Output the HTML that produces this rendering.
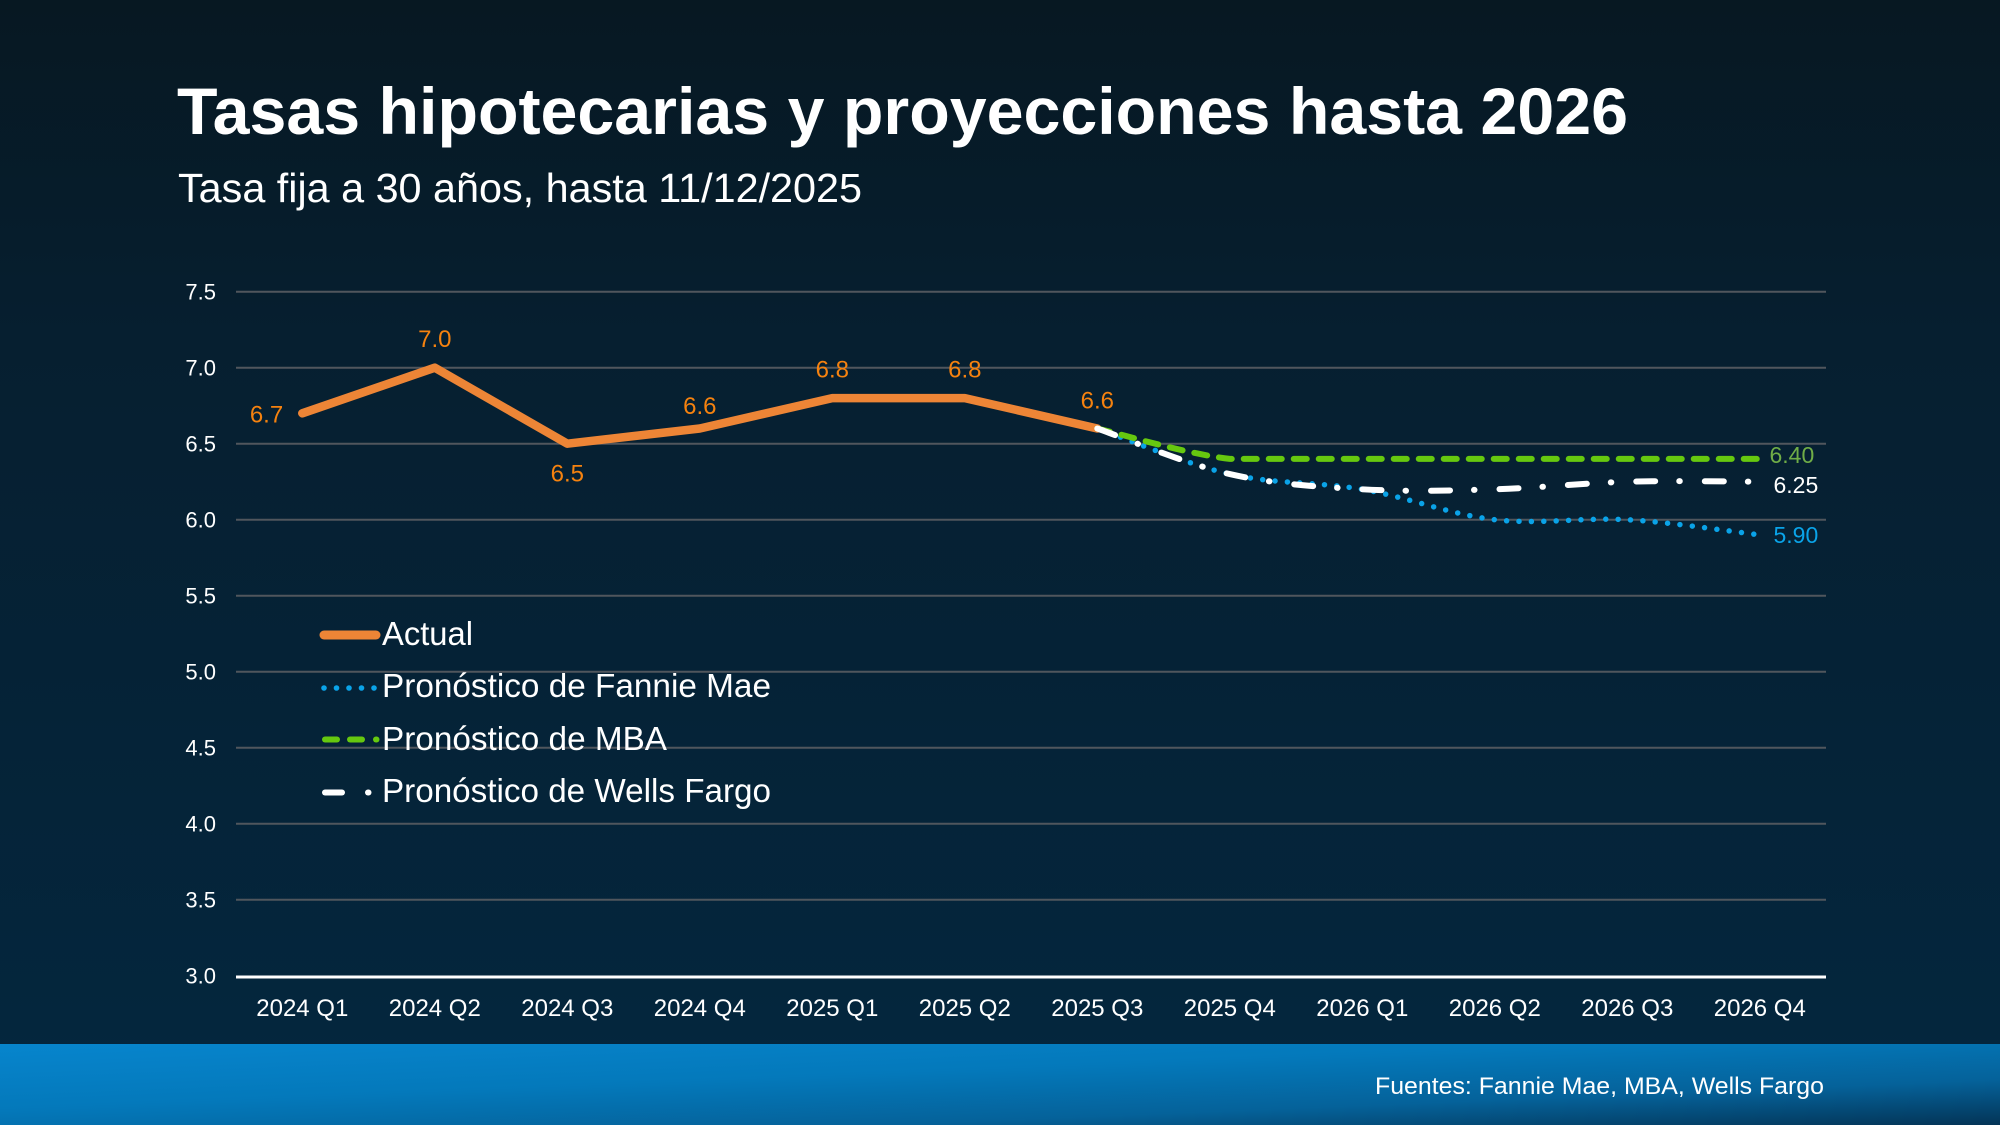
<!DOCTYPE html>
<html>
<head>
<meta charset="utf-8">
<style>
  html, body { margin: 0; padding: 0; background: #061f30; }
  svg { display: block; }
  text { font-family: "Liberation Sans", Arial, sans-serif; }
</style>
</head>
<body>
<svg width="2000" height="1125" viewBox="0 0 2000 1125" xmlns="http://www.w3.org/2000/svg">
  <defs>
    <linearGradient id="bg" x1="0" y1="0" x2="0" y2="1">
      <stop offset="0" stop-color="#071822"/>
      <stop offset="0.3" stop-color="#061f30"/>
      <stop offset="1" stop-color="#04273f"/>
    </linearGradient>
    <linearGradient id="band" x1="0" y1="0" x2="1" y2="1">
      <stop offset="0" stop-color="#0785cd"/>
      <stop offset="0.4" stop-color="#0479bb"/>
      <stop offset="0.72" stop-color="#05629a"/>
      <stop offset="1" stop-color="#043456"/>
    </linearGradient>
  </defs>

  <rect x="0" y="0" width="2000" height="1125" fill="url(#bg)"/>
  <rect x="0" y="1044" width="2000" height="81" fill="url(#band)"/>

  <!-- Title -->
  <text x="177" y="134" font-size="66" font-weight="bold" fill="#ffffff" textLength="1451" lengthAdjust="spacingAndGlyphs">Tasas hipotecarias y proyecciones hasta 2026</text>
  <text x="178" y="202" font-size="41" fill="#ffffff" textLength="684" lengthAdjust="spacingAndGlyphs">Tasa fija a 30 años, hasta 11/12/2025</text>

  <!-- Gridlines -->
  <g stroke="#50565d" stroke-width="2">
    <line x1="236" y1="291.7" x2="1826" y2="291.7"/>
    <line x1="236" y1="367.7" x2="1826" y2="367.7"/>
    <line x1="236" y1="443.7" x2="1826" y2="443.7"/>
    <line x1="236" y1="519.7" x2="1826" y2="519.7"/>
    <line x1="236" y1="595.7" x2="1826" y2="595.7"/>
    <line x1="236" y1="671.7" x2="1826" y2="671.7"/>
    <line x1="236" y1="747.7" x2="1826" y2="747.7"/>
    <line x1="236" y1="823.7" x2="1826" y2="823.7"/>
    <line x1="236" y1="899.7" x2="1826" y2="899.7"/>
  </g>
  <line x1="236" y1="977" x2="1826" y2="977" stroke="#ffffff" stroke-width="3"/>

  <!-- Y tick labels -->
  <g font-size="22" fill="#ffffff" text-anchor="end">
    <text x="216" y="299.7">7.5</text>
    <text x="216" y="375.7">7.0</text>
    <text x="216" y="451.7">6.5</text>
    <text x="216" y="527.7">6.0</text>
    <text x="216" y="603.7">5.5</text>
    <text x="216" y="679.7">5.0</text>
    <text x="216" y="755.7">4.5</text>
    <text x="216" y="831.7">4.0</text>
    <text x="216" y="907.7">3.5</text>
    <text x="216" y="983.7">3.0</text>
  </g>

  <!-- X labels -->
  <g font-size="24" fill="#ffffff" text-anchor="middle">
    <text x="302.3" y="1016">2024 Q1</text>
    <text x="434.8" y="1016">2024 Q2</text>
    <text x="567.3" y="1016">2024 Q3</text>
    <text x="699.8" y="1016">2024 Q4</text>
    <text x="832.3" y="1016">2025 Q1</text>
    <text x="964.8" y="1016">2025 Q2</text>
    <text x="1097.3" y="1016">2025 Q3</text>
    <text x="1229.8" y="1016">2025 Q4</text>
    <text x="1362.3" y="1016">2026 Q1</text>
    <text x="1494.8" y="1016">2026 Q2</text>
    <text x="1627.3" y="1016">2026 Q3</text>
    <text x="1759.8" y="1016">2026 Q4</text>
  </g>

  <!-- Actual -->
  <polyline points="302.3,413.3 434.8,367.7 567.3,443.7 699.8,428.5 832.3,398.1 964.8,398.1 1097.3,428.5"
    fill="none" stroke="#ed8536" stroke-width="8.5" stroke-linejoin="round" stroke-linecap="round"/>

  <!-- Fannie Mae (blue dotted) -->
  <path d="M1097.3,428.5 C1119.4,436.1 1185.6,464.0 1229.8,474.1 C1274.0,484.2 1318.1,481.7 1362.3,489.3 C1406.5,496.9 1450.6,514.6 1494.8,519.7 C1539.0,524.8 1583.1,517.2 1627.3,519.7 C1671.5,522.2 1737.7,532.4 1759.8,534.9"
    fill="none" stroke="#0aa3e8" stroke-width="5.5" stroke-linecap="round" stroke-dasharray="0 12.4"/>

  <!-- MBA (green dashed) -->
  <path d="M1097.3,428.5 C1119.4,433.6 1185.6,453.8 1229.8,458.9 L1759.8,458.9"
    fill="none" stroke="#66c80f" stroke-width="6" stroke-linecap="round" stroke-dasharray="13 12"/>

  <!-- Wells Fargo (white long dash dot) -->
  <path d="M1097.3,428.5 C1119.4,436.1 1185.6,464.0 1229.8,474.1 C1274.0,484.2 1318.1,486.8 1362.3,489.3 C1406.5,491.8 1450.6,490.6 1494.8,489.3 C1539.0,488.0 1583.1,483.0 1627.3,481.7 C1671.5,480.4 1737.7,481.7 1759.8,481.7"
    fill="none" stroke="#ffffff" stroke-width="6" stroke-linecap="round" stroke-dasharray="19 24 0.5 25"/>

  <!-- Actual data labels -->
  <g font-size="24" fill="#f5820f" text-anchor="middle">
    <text x="266.5" y="422.5">6.7</text>
    <text x="434.8" y="347">7.0</text>
    <text x="567.3" y="481.7">6.5</text>
    <text x="699.8" y="414">6.6</text>
    <text x="832.3" y="377.3">6.8</text>
    <text x="964.8" y="377.3">6.8</text>
    <text x="1097.3" y="408.3">6.6</text>
  </g>

  <!-- End labels -->
  <g font-size="23">
    <text x="1769.5" y="463" fill="#70ad47">6.40</text>
    <text x="1773.5" y="493" fill="#ffffff">6.25</text>
    <text x="1773.5" y="543" fill="#0aa3e8">5.90</text>
  </g>

  <!-- Legend -->
  <line x1="324" y1="635" x2="376" y2="635" stroke="#ed8536" stroke-width="9" stroke-linecap="round"/>
  <g fill="#0aa3e8">
    <circle cx="324" cy="688" r="2.8"/>
    <circle cx="336.5" cy="688" r="2.8"/>
    <circle cx="349" cy="688" r="2.8"/>
    <circle cx="361.5" cy="688" r="2.8"/>
    <circle cx="374" cy="688" r="2.8"/>
  </g>
  <g stroke="#66c80f" stroke-width="6" stroke-linecap="round">
    <line x1="325" y1="739.5" x2="337" y2="739.5"/>
    <line x1="350" y1="739.5" x2="362" y2="739.5"/>
    <line x1="376" y1="739.5" x2="376.5" y2="739.5"/>
  </g>
  <g stroke="#ffffff" stroke-width="6" stroke-linecap="round">
    <line x1="325" y1="792.5" x2="342" y2="792.5"/>
    <line x1="368" y1="792.5" x2="368.5" y2="792.5"/>
  </g>
  <g font-size="33" fill="#ffffff">
    <text x="382" y="645" textLength="91" lengthAdjust="spacingAndGlyphs">Actual</text>
    <text x="382" y="697" textLength="389" lengthAdjust="spacingAndGlyphs">Pronóstico de Fannie Mae</text>
    <text x="382" y="750" textLength="285" lengthAdjust="spacingAndGlyphs">Pronóstico de MBA</text>
    <text x="382" y="802" textLength="389" lengthAdjust="spacingAndGlyphs">Pronóstico de Wells Fargo</text>
  </g>

  <!-- Source -->
  <text x="1824" y="1094" font-size="24" fill="#ffffff" text-anchor="end" textLength="449" lengthAdjust="spacingAndGlyphs">Fuentes: Fannie Mae, MBA, Wells Fargo</text>
</svg>
</body>
</html>
